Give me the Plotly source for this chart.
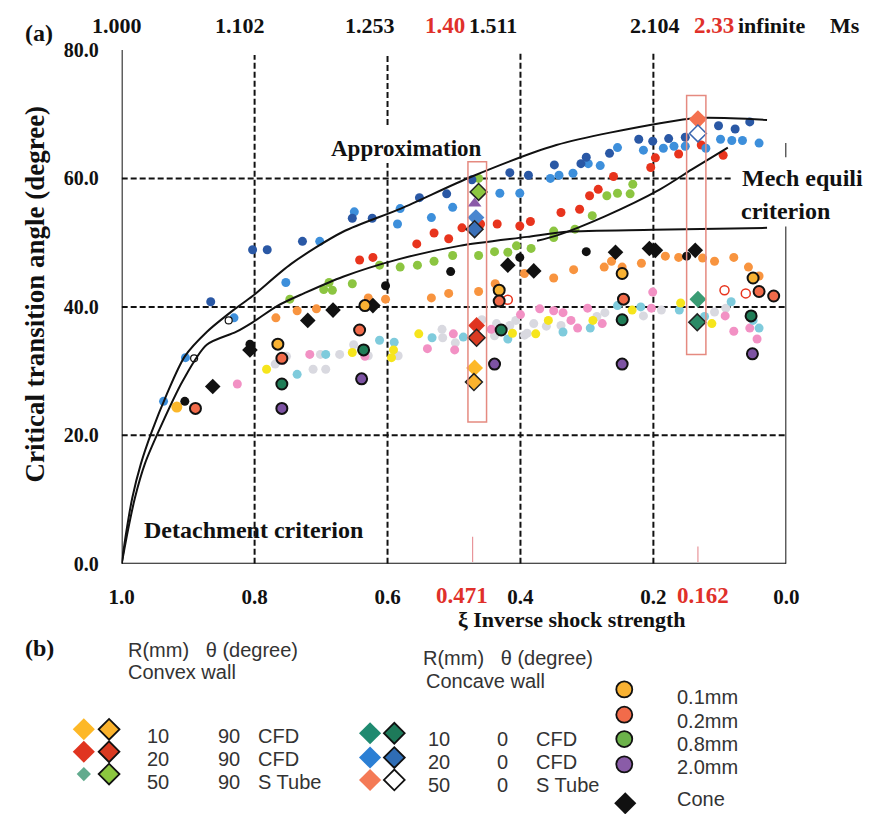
import plotly.graph_objects as go

W, H = 875, 825
PL, PR, PT, PB = 112, 797, 40, 568  # plot rectangle in pixels
SERIF = "Liberation Serif, Times New Roman, serif"
SANS = "Liberation Sans, Arial, sans-serif"

# ---------------- data (xi = inverse shock strength, deg = critical transition angle) -------------
dark_blue_xi = [0.866, 0.803, 0.781, 0.728, 0.653, 0.623, 0.552, 0.511, 0.473, 0.416, 0.388, 0.349,
                0.309, 0.301, 0.266, 0.222, 0.201, 0.177, 0.152, 0.102, 0.077, 0.055]
dark_blue_deg = [40.8, 48.9, 48.9, 50.2, 53.8, 53.8, 57.0, 57.6, 59.8, 60.9, 60.5, 62.1,
                 62.3, 63.3, 63.9, 66.1, 65.8, 66.2, 66.4, 68.2, 67.7, 68.8]

blue_xi = [0.937, 0.904, 0.831, 0.753, 0.702, 0.650, 0.585, 0.581, 0.534, 0.502, 0.431, 0.401, 0.355,
           0.342, 0.321, 0.298, 0.280, 0.254, 0.215, 0.185, 0.169, 0.152, 0.121, 0.099, 0.082, 0.066, 0.041]
blue_deg = [25.3, 32.1, 38.3, 43.8, 50.2, 54.8, 52.9, 55.3, 53.9, 55.5, 57.7, 57.7, 60.0,
            60.5, 60.8, 62.3, 62.0, 64.8, 64.4, 64.7, 65.0, 65.0, 64.7, 66.1, 65.9, 65.9, 65.5]

red_xi = [0.642, 0.622, 0.556, 0.530, 0.508, 0.488, 0.460, 0.435, 0.401, 0.385, 0.339, 0.311, 0.296,
          0.283, 0.260, 0.204, 0.197, 0.162, 0.128, 0.095]
red_deg = [47.3, 47.7, 49.8, 51.5, 50.6, 52.3, 52.9, 52.9, 52.6, 53.3, 54.7, 55.2, 57.3,
           58.3, 60.3, 61.7, 63.2, 63.8, 65.2, 63.6]

green_xi = [0.747, 0.696, 0.688, 0.683, 0.653, 0.612, 0.581, 0.555, 0.530, 0.502, 0.463, 0.463, 0.439,
            0.419, 0.406, 0.384, 0.350, 0.350, 0.318, 0.292, 0.270, 0.254, 0.235, 0.231]
green_deg = [41.2, 42.7, 43.8, 42.6, 43.6, 46.5, 46.2, 46.5, 47.1, 48.0, 48.0, 60.0, 48.6,
             48.5, 49.5, 49.1, 50.8, 51.8, 52.1, 54.2, 57.3, 57.7, 57.6, 59.1]

black_xi = [0.905, 0.807, 0.603, 0.505, 0.401, 0.301, 0.150]
black_deg = [25.3, 34.2, 43.3, 45.5, 47.7, 48.6, 47.9]

cone_xi = [0.863, 0.807, 0.720, 0.682, 0.622, 0.419, 0.380, 0.257, 0.206, 0.197, 0.137]
cone_deg = [27.6, 33.3, 37.9, 39.5, 40.2, 46.5, 45.6, 48.5, 49.1, 48.8, 48.8]

orange_xi = [0.768, 0.736, 0.707, 0.629, 0.603, 0.534, 0.508, 0.463, 0.438, 0.394, 0.350, 0.320,
             0.274, 0.263, 0.247, 0.218, 0.182, 0.162, 0.126, 0.108, 0.079, 0.057, 0.041]
orange_deg = [38.3, 39.4, 39.7, 41.4, 41.2, 41.4, 42.1, 42.4, 43.6, 45.2, 44.5, 45.8,
              46.2, 47.1, 46.2, 46.8, 47.9, 47.7, 47.6, 47.1, 47.7, 46.2, 44.8]

yellow_xi = [0.782, 0.653, 0.594, 0.591, 0.553, 0.412, 0.377, 0.358, 0.291, 0.232, 0.159, 0.112]
yellow_deg = [30.3, 32.9, 32.1, 33.3, 35.8, 35.9, 35.8, 37.9, 37.9, 39.5, 40.6, 37.4]

amber_xi = [0.917]
amber_deg = [24.4]

pink_xi = [0.826, 0.758, 0.717, 0.634, 0.540, 0.501, 0.499, 0.444, 0.400, 0.371, 0.350, 0.336, 0.324,
           0.314, 0.299, 0.277, 0.203, 0.201, 0.092, 0.079, 0.055, 0.044]
pink_deg = [28.0, 31.7, 32.6, 32.3, 33.5, 35.8, 33.3, 36.5, 38.8, 39.7, 39.4, 39.1, 37.9,
            36.7, 39.8, 37.4, 39.8, 42.3, 38.6, 36.2, 36.7, 35.0]

cyan_xi = [0.736, 0.693, 0.612, 0.590, 0.533, 0.486, 0.419, 0.336, 0.295, 0.254, 0.219, 0.161,
           0.123, 0.083, 0.050, 0.041]
cyan_deg = [29.5, 32.6, 34.8, 34.5, 35.2, 35.3, 35.0, 36.1, 36.7, 40.2, 40.0, 39.5,
            38.5, 40.8, 37.9, 36.7]

gray_xi = [0.769, 0.752, 0.712, 0.701, 0.693, 0.672, 0.651, 0.629, 0.584, 0.518, 0.517, 0.498, 0.458,
           0.439, 0.436, 0.416, 0.407, 0.394, 0.390, 0.380, 0.361, 0.339, 0.285, 0.273, 0.215, 0.188,
           0.108, 0.091]
gray_deg = [31.1, 32.3, 30.3, 32.6, 30.3, 32.6, 34.1, 32.4, 32.4, 36.5, 35.2, 34.4, 38.0,
            35.5, 37.4, 37.1, 37.9, 35.6, 35.9, 37.4, 37.0, 37.1, 38.5, 39.1, 38.6, 39.5,
            39.2, 39.8]

mm01_xi = [0.765, 0.634, 0.432, 0.247, 0.050]
mm01_deg = [34.2, 40.2, 42.6, 45.2, 44.5]
mm02_xi = [0.889, 0.759, 0.642, 0.432, 0.245, 0.041, 0.019]
mm02_deg = [24.2, 32.0, 36.4, 40.9, 41.2, 42.4, 41.7]
mm08_xi = [0.759, 0.636, 0.429, 0.247, 0.053]
mm08_deg = [28.0, 33.3, 36.4, 38.0, 38.6]
mm20_xi = [0.759, 0.639, 0.439, 0.247, 0.051]
mm20_deg = [24.2, 28.8, 31.1, 31.1, 32.7]

open_red_xi = [0.419, 0.093, 0.061]
open_red_deg = [41.1, 42.6, 42.1]
open_black_xi = [0.891, 0.839]
open_black_deg = [32.0, 37.9]

# wall cases (diamonds) inside the highlighted columns
cvx10_xi, cvx10_deg = [0.469], [30.5]
cvx10o_xi, cvx10o_deg = [0.470], [28.3]
cvx20_xi, cvx20_deg = [0.466], [37.1]
cvx20o_xi, cvx20o_deg = [0.466], [35.2]
cvx50o_xi, cvx50o_deg = [0.463], [57.9]
ccv20_xi, ccv20_deg = [0.467], [53.9]
ccv20o_xi, ccv20o_deg = [0.469], [52.1]
tri_xi, tri_deg = [0.469], [56.1]
ccv50_xi, ccv50_deg = [0.133], [69.2]
ccv50o_xi, ccv50o_deg = [0.133], [67.0]
ccv10_xi, ccv10_deg = [0.133], [41.2]
ccv10o_xi, ccv10o_deg = [0.134], [37.6]

# criteria curves
approx_xi = [1.0, 0.993, 0.984, 0.971, 0.955, 0.933, 0.905, 0.872, 0.832, 0.803, 0.745, 0.667,
             0.580, 0.473, 0.346, 0.190, 0.131, 0.029]
approx_deg = [0, 5.0, 10.3, 15.6, 20.5, 26.2, 32.3, 36.1, 39.5, 41.7, 46.7, 51.7,
              55.3, 60.3, 65.2, 68.6, 69.4, 69.1]
detach_xi = [1.0, 0.991, 0.980, 0.965, 0.945, 0.908, 0.872, 0.828, 0.803, 0.765, 0.726, 0.667,
             0.584, 0.492, 0.390, 0.331, 0.200, 0.029]
detach_deg = [0, 5.0, 10.3, 15.6, 20.5, 28.5, 34.1, 36.1, 37.6, 40.2, 42.1, 44.7,
              47.4, 49.5, 50.9, 51.7, 52.0, 52.3]
mech_xi = [0.375, 0.346, 0.273, 0.190, 0.142, 0.088]
mech_deg = [50.3, 51.1, 54.1, 58.3, 61.4, 64.8]

x_ticks = [1.0, 0.8, 0.6, 0.4, 0.2, 0.0]
x_ticktext = ["1.0", "0.8", "0.6", "0.4", "0.2", "0.0"]
y_ticks = [0, 20, 40, 60, 80]
y_ticktext = ["0.0", "20.0", "40.0", "60.0", "80.0"]
mach_labels = ["1.000", "1.102", "1.253", "1.40", "1.511", "2.104", "2.33", "infinite", "Ms"]
mach_px = [107, 234, 368, 445, 495, 662, 722, 782, 857]
mach_red = [False, False, False, True, False, False, True, False, False]
highlight_labels = ["0.471", "0.162"]
highlight_px = [463, 711]
box_xi = [(0.479, 0.451), (0.150, 0.121)]
box_deg = [(22.1, 62.6), (32.6, 72.9)]
tick_mark_xi = [0.472, 0.133]
tick_mark_top = [4.2, 2.7]

# ---------------- figure -------------
fig = go.Figure()


def scat(xs, ys, color, size=9, symbol="circle", line_color=None, line_width=0, name=""):
    fig.add_trace(go.Scatter(
        x=xs, y=ys, mode="markers", name=name, showlegend=False, hoverinfo="skip",
        marker=dict(color=color, size=size, symbol=symbol, opacity=1,
                    line=dict(color=line_color or color, width=line_width))))


# background clouds first
scat(gray_xi, gray_deg, "#d9d9e0")
scat(pink_xi, pink_deg, "#f291c4")
scat(cyan_xi, cyan_deg, "#7fcbdc")
scat(yellow_xi, yellow_deg, "#f6e51c")
scat(amber_xi, amber_deg, "#fbb72a", size=11)
scat(orange_xi, orange_deg, "#f8943f")
scat(green_xi, green_deg, "#8cc541")
scat(red_xi, red_deg, "#e8341d")
scat(blue_xi, blue_deg, "#3d8fdb")
scat(dark_blue_xi, dark_blue_deg, "#2a58a5")
scat(black_xi, black_deg, "#111111")
scat(cone_xi, cone_deg, "#111111", size=12, symbol="diamond")
scat(open_red_xi, open_red_deg, "white", size=9, line_color="#e8341d", line_width=1.5)
scat(open_black_xi, open_black_deg, "white", size=7, line_color="#111111", line_width=1.2)
scat(mm01_xi, mm01_deg, "#f9b233", size=11, line_color="#111111", line_width=2)
scat(mm02_xi, mm02_deg, "#f26b4a", size=11, line_color="#111111", line_width=2)
scat(mm08_xi, mm08_deg, "#1f7d57", size=11, line_color="#111111", line_width=2)
scat(mm20_xi, mm20_deg, "#7d53a3", size=11, line_color="#111111", line_width=2)

# criteria curves
for xs, ys in [(approx_xi, approx_deg), (detach_xi, detach_deg), (mech_xi, mech_deg)]:
    fig.add_trace(go.Scatter(x=xs, y=ys, mode="lines", showlegend=False, hoverinfo="skip",
                             line=dict(color="#111111", width=2, shape="spline", smoothing=0.8)))

# wall diamonds
scat(cvx10_xi, cvx10_deg, "#fdb827", size=13, symbol="diamond")
scat(cvx10o_xi, cvx10o_deg, "#fbb32d", size=13, symbol="diamond", line_color="#222", line_width=1.5)
scat(cvx20_xi, cvx20_deg, "#e03420", size=13, symbol="diamond")
scat(cvx20o_xi, cvx20o_deg, "#d93b22", size=13, symbol="diamond", line_color="#222", line_width=1.5)
scat(cvx50o_xi, cvx50o_deg, "#8cc63f", size=13, symbol="diamond", line_color="#222", line_width=1.5)
scat(tri_xi, tri_deg, "#8a5aa8", size=12, symbol="triangle-up")
scat(ccv20_xi, ccv20_deg, "#4a86cf", size=13, symbol="diamond")
scat(ccv20o_xi, ccv20o_deg, "#3a70b8", size=13, symbol="diamond", line_color="#222", line_width=1.5)
scat(ccv50_xi, ccv50_deg, "#f4714f", size=14, symbol="diamond")
scat(ccv50o_xi, ccv50o_deg, "white", size=13, symbol="diamond", line_color="#3a66b0", line_width=1.5)
scat(ccv10_xi, ccv10_deg, "#3a9c74", size=13, symbol="diamond")
scat(ccv10o_xi, ccv10o_deg, "#2a8a66", size=13, symbol="diamond", line_color="#222", line_width=1.5)

shapes = []
DASH = "6px,3px"


def dline(x0, y0, x1, y1, dash=DASH, width=2, color="#111111", layer="below"):
    shapes.append(dict(type="line", xref="x", yref="y", x0=x0, y0=y0, x1=x1, y1=y1, layer=layer,
                       line=dict(color=color, width=width, dash=dash)))


# grid lines (dashed)
dline(1.0, 20, 0.0, 20)
dline(1.0, 40, 0.0, 40)
dline(1.0, 60, 0.083, 60)
dline(0.8, 0, 0.8, 79.2)
dline(0.6, 0, 0.6, 62.4)
dline(0.6, 68.3, 0.6, 79.2)
dline(0.4, 0, 0.4, 79.5)
dline(0.2, 0, 0.2, 79.5)
# frame
dline(1.0, 0, 1.0, 80.5, dash="solid", width=2, layer="above")
dline(1.0, 0, 0.0, 0, dash="solid", width=2, layer="above")
dline(1.0, 80.5, 0.0, 80.5, dash="solid", width=1.8, color="#333", layer="above")
dline(0.0, 0, 0.0, 52.5, dash="solid", width=2, layer="above")
dline(0.0, 63.3, 0.0, 65.5, dash="solid", width=2, layer="above")
# highlighted columns
for (xa, xb), (ya, yb) in zip(box_xi, box_deg):
    shapes.append(dict(type="rect", xref="x", yref="y", x0=xa, x1=xb, y0=ya, y1=yb, layer="above",
                       line=dict(color="#e58a80", width=1.5)))
for xm, ym in zip(tick_mark_xi, tick_mark_top):
    dline(xm, 0.3, xm, ym, dash="solid", width=1.2, color="#e8959a")

# ---------- legend panel (b) (overlay axes in pixel units) ----------
LEG_X = [73, 99, 73, 99, 73, 99, 368, 393, 368, 393, 368, 393]
LEG_Y = [738, 738, 761, 761, 784, 784, 742, 742, 767, 767, 790, 790]
LEG_FILL = ["#fdb827", "#fbb32d", "#e03420", "#d93b22", "#62ab8e", "#8cc63f",
            "#1f8a70", "#1e7a5a", "#2b7fd4", "#2f6db5", "#f47a56", "white"]
LEG_LINE = [0, 1.8, 0, 1.8, 0, 1.8, 0, 1.8, 0, 1.8, 0, 1.8]
LEG_SIZE = [17, 16, 17, 16, 11, 16, 17, 16, 17, 16, 17, 16]
fig.add_trace(go.Scatter(x=LEG_X, y=LEG_Y, xaxis="x2", yaxis="y2", mode="markers", showlegend=False,
                         hoverinfo="skip",
                         marker=dict(symbol="diamond", color=LEG_FILL, size=LEG_SIZE, opacity=1,
                                     line=dict(color="#111111", width=LEG_LINE))))
fig.add_trace(go.Scatter(x=[630, 630, 630, 630], y=[697, 723, 748, 774], xaxis="x2", yaxis="y2",
                         mode="markers", showlegend=False, hoverinfo="skip",
                         marker=dict(color=["#f9b233", "#f26b4a", "#6cb24a", "#8a5ca8"], size=16,
                                     opacity=1, line=dict(color="#111111", width=1.8))))
fig.add_trace(go.Scatter(x=[631], y=[814], xaxis="x2", yaxis="y2", mode="markers", showlegend=False,
                         hoverinfo="skip",
                         marker=dict(symbol="diamond", color="#111111", size=17, opacity=1)))

annotations = []


def ann(text, px, py, size, color="#111111", family=SERIF, bold=True, xanchor="center", angle=0):
    annotations.append(dict(text=("<b>%s</b>" % text) if bold else text, x=px / W, y=1 - py / H,
                            xref="paper", yref="paper", showarrow=False, xanchor=xanchor,
                            yanchor="middle", textangle=angle, borderpad=0,
                            font=dict(family=family, size=size, color=color)))


ann("(a)", 27, 23, 24)
for lab, px, red in zip(mach_labels, mach_px, mach_red):
    ann(lab, px, 15, 23 if red else 22, color="#e0302a" if red else "#111111")
for lab, px in zip(highlight_labels, highlight_px):
    ann(lab, px, 600, 23, color="#e0302a")
ann("ξ Inverse shock strength", 576, 625, 22)
ann("Critical transition angle (degree)", 23, 291, 27, angle=-90)
ann("Approximation", 406, 141, 23)
ann("Mech equili", 750, 172, 24, xanchor="left")
ann("criterion", 749, 205, 24, xanchor="left")
ann("Detachment criterion", 134, 533, 24, xanchor="left")
ann("(b)", 27, 654, 24)

LG = "#333333"
LS = 20
ann("R(mm)&nbsp;&nbsp;&nbsp;θ (degree)", 118, 656, LS, color=LG, family=SANS, bold=False, xanchor="left")
ann("Convex wall", 118, 679, LS, color=LG, family=SANS, bold=False, xanchor="left")
ann("R(mm)&nbsp;&nbsp;&nbsp;θ (degree)", 422, 665, LS, color=LG, family=SANS, bold=False, xanchor="left")
ann("Concave wall", 425, 688, LS, color=LG, family=SANS, bold=False, xanchor="left")
cvx_r = ["10", "20", "50"]
cvx_src = ["CFD", "CFD", "S Tube"]
for i, yy in enumerate([745, 768, 792]):
    ann(cvx_r[i], 149, yy, LS, color=LG, family=SANS, bold=False)
    ann("90", 223, yy, LS, color=LG, family=SANS, bold=False)
    ann(cvx_src[i], 251, yy, LS, color=LG, family=SANS, bold=False, xanchor="left")
for i, yy in enumerate([748, 772, 795]):
    ann(cvx_r[i], 439, yy, LS, color=LG, family=SANS, bold=False)
    ann("0", 504, yy, LS, color=LG, family=SANS, bold=False)
    ann(cvx_src[i], 538, yy, LS, color=LG, family=SANS, bold=False, xanchor="left")
for lab, yy in zip(["0.1mm", "0.2mm", "0.8mm", "2.0mm", "Cone"], [705, 729, 753, 777, 810]):
    ann(lab, 683, yy, LS, color=LG, family=SANS, bold=False, xanchor="left")

fig.update_layout(
    width=W, height=H, margin=dict(l=0, r=0, t=0, b=0),
    paper_bgcolor="white", plot_bgcolor="rgba(0,0,0,0)",
    shapes=shapes, annotations=annotations,
    xaxis=dict(domain=[PL / W, PR / W], range=[1.0, 0.0], showgrid=False, zeroline=False,
               showline=False, tickvals=x_ticks, ticktext=["<b>%s</b>" % t for t in x_ticktext],
               ticks="", ticklabelstandoff=18,
               tickfont=dict(family=SERIF, size=21, color="#111111")),
    yaxis=dict(domain=[1 - PB / H, 1 - PT / H], range=[0, 80], showgrid=False, zeroline=False,
               showline=False, tickvals=y_ticks, ticktext=["<b>%s</b>" % t for t in y_ticktext],
               ticks="", ticklabelstandoff=22,
               tickfont=dict(family=SERIF, size=20, color="#111111")),
    xaxis2=dict(domain=[0, 1], range=[0, W], visible=False, anchor="y2"),
    yaxis2=dict(domain=[0, 1], range=[H, 0], visible=False, anchor="x2"),
)

fig.write_html("out.html")
